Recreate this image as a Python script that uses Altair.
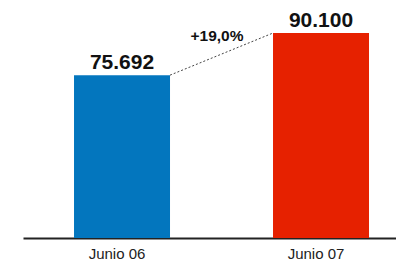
import altair as alt
import pandas as pd

categories = ["Junio 06", "Junio 07"]
values = [75692, 90100]
colors = ["#0376BE", "#E62100"]


def fmt(v):
    return f"{v:,}".replace(",", ".")


labels = [fmt(v) for v in values]
change = (values[1] / values[0] - 1) * 100
change_label = f"+{change:.1f}%".replace(".", ",")

df = pd.DataFrame({"cat": categories, "val": values, "label": labels})
conn = pd.DataFrame({
    "from": [categories[0]], "to": [categories[1]],
    "v0": [values[0]], "v1": [values[1]],
    "mid": [(values[0] + values[1]) / 2], "txt": [change_label],
})

FONT = "Liberation Sans"
xscale = alt.Scale(domain=categories, paddingInner=0.5176, paddingOuter=0.196, align=0.654)
yscale = alt.Scale(domain=[20000, 98660], nice=False, zero=False)

bars = alt.Chart(df).mark_bar(clip=True).encode(
    x=alt.X("cat:N", scale=xscale, axis=alt.Axis(
        title=None, labelAngle=0, ticks=False, domainColor="#222222", domainWidth=2,
        labelFont=FONT, labelFontSize=15, labelColor="#222222", labelPadding=8,
        labelOffset=-5)),
    y=alt.Y("val:Q", scale=yscale, axis=None),
    color=alt.Color("cat:N", scale=alt.Scale(domain=categories, range=colors), legend=None),
)

vals_text = alt.Chart(df).mark_text(
    baseline="alphabetic", dy=-6, font=FONT, fontSize=21, fontWeight="bold", color="#111111"
).encode(
    x=alt.X("cat:N", scale=xscale),
    y=alt.Y("val:Q", scale=yscale),
    text="label:N",
)

connector = alt.Chart(conn).mark_rule(strokeDash=[2, 2], color="#444444", strokeWidth=1).encode(
    x=alt.X("from:N", scale=xscale, bandPosition=1),
    x2=alt.X2("to", bandPosition=0),
    y=alt.Y("v0:Q", scale=yscale),
    y2=alt.Y2("v1"),
)

pct = alt.Chart(conn).mark_text(
    baseline="alphabetic", dx=47, dy=-13, font=FONT, fontSize=15.5, fontWeight="bold", color="#111111"
).encode(
    x=alt.X("from:N", scale=xscale, bandPosition=1),
    y=alt.Y("mid:Q", scale=yscale),
    text="txt:N",
)

chart = alt.layer(bars, connector, vals_text, pct).properties(
    width=373, height=230,
    padding={"left": 15, "top": 0, "right": 0, "bottom": 24},
    autosize="none",
).configure_view(stroke=None)

chart.save("out.html", embed_options={"renderer": "svg", "actions": False})
